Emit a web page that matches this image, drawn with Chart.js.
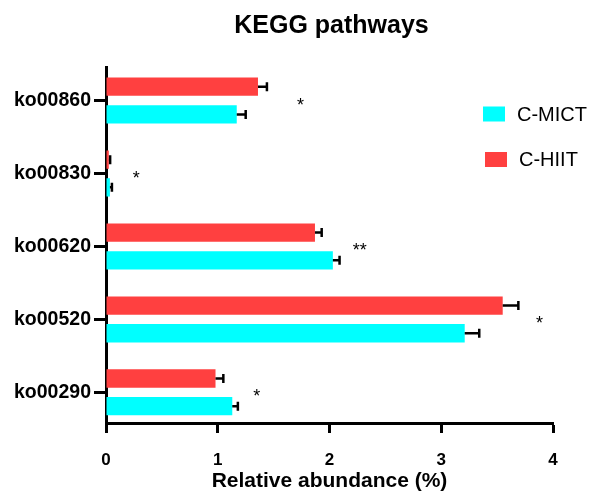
<!DOCTYPE html>
<html>
<head>
<meta charset="utf-8">
<script src="https://cdn.jsdelivr.net/npm/chart.js@4.4.1/dist/chart.umd.min.js"></script>
<style>
  body { margin: 0; background: #fff; }
  #wrap { width: 593px; height: 491px; }
</style>
</head>
<body>
<div id="wrap"><canvas id="myChart"></canvas></div>
<script>
// values
const categories = ['ko00860', 'ko00830', 'ko00620', 'ko00520', 'ko00290'];
const hiit = [1.36, 0.025, 1.87, 3.55, 0.98];
const hiitErr = [0.08, 0.012, 0.06, 0.14, 0.07];
const mict = [1.17, 0.035, 2.03, 3.21, 1.13];
const mictErr = [0.08, 0.018, 0.06, 0.13, 0.05];
const sigLabels = ['*', '*', '**', '*', '*'];
const sigAt = [1.74, 0.27, 2.27, 3.88, 1.35];
const xTicks = [0, 1, 2, 3, 4];

const FONT = "'Liberation Sans', Arial, sans-serif";
Chart.defaults.color = '#000';
Chart.defaults.font.family = FONT;

// error bars, drawn from the bar ends
const errorBars = {
  id: 'errorBars',
  afterDatasetsDraw(chart) {
    let ctx = chart.ctx;
    let xs = chart.scales.x;
    ctx.save();
    ctx.strokeStyle = '#000';
    ctx.lineWidth = 2.5;
    chart.data.datasets.forEach(function (ds, di) {
      let meta = chart.getDatasetMeta(di);
      meta.data.forEach(function (bar, i) {
        let xe = xs.getPixelForValue(ds.data[i] + ds.errors[i]);
        ctx.beginPath();
        ctx.moveTo(bar.x, bar.y);
        ctx.lineTo(xe, bar.y);
        ctx.moveTo(xe, bar.y - 4.5);
        ctx.lineTo(xe, bar.y + 4.5);
        ctx.stroke();
      });
    });
    ctx.restore();
  }
};

// title, significance marks and legend
const extras = {
  id: 'extras',
  afterDraw(chart) {
    let ctx = chart.ctx;
    let area = chart.chartArea;
    let xs = chart.scales.x, ys = chart.scales.y;
    ctx.save();
    ctx.fillStyle = '#000';
    ctx.textAlign = 'center';
    ctx.textBaseline = 'middle';
    ctx.font = 'bold 25px ' + FONT;
    ctx.fillText('KEGG pathways', (area.left + area.right) / 2 + 2, 26);

    ctx.font = '18px ' + FONT;
    ctx.textBaseline = 'alphabetic';
    sigLabels.forEach(function (s, i) {
      ctx.fillText(s, xs.getPixelForValue(sigAt[i]), ys.getPixelForValue(i) + 10);
    });

    // legend: C-MICT first, then C-HIIT
    let order = [1, 0];
    ctx.textAlign = 'left';
    ctx.textBaseline = 'middle';
    ctx.font = '20px ' + FONT;
    order.forEach(function (di, k) {
      let ds = chart.data.datasets[di];
      let y = 114 + k * 45.5;
      ctx.fillStyle = ds.backgroundColor;
      ctx.fillRect(483 + k * 2, y - 7.5, 22, 15);
      ctx.fillStyle = '#000';
      ctx.fillText(ds.label, 517 + k * 2, y + 1);
    });
    ctx.restore();
  }
};

let ctx = document.getElementById('myChart').getContext('2d');
let myChart = new Chart(ctx, {
  type: 'bar',
  data: {
    labels: categories,
    datasets: [{
      label: 'C-HIIT',
      data: hiit,
      errors: hiitErr,
      backgroundColor: '#ff4040',
      borderWidth: 0,
      categoryPercentage: 0.76,
      barPercentage: 0.66
    }, {
      label: 'C-MICT',
      data: mict,
      errors: mictErr,
      backgroundColor: '#00ffff',
      borderWidth: 0,
      categoryPercentage: 0.76,
      barPercentage: 0.66
    }]
  },
  options: {
    indexAxis: 'y',
    responsive: true,
    maintainAspectRatio: false,
    animation: false,
    layout: { padding: { top: 67, right: 40, left: 0, bottom: 0 } },
    plugins: {
      legend: { display: false },
      tooltip: { enabled: false }
    },
    scales: {
      x: {
        min: 0,
        max: 4,
        afterBuildTicks: function (scale) {
          scale.ticks = xTicks.map(v => ({ value: v }));
        },
        afterFit: function (scale) { scale.height = 68; },
        border: { color: '#000', width: 3 },
        grid: { drawOnChartArea: false, tickColor: '#000', tickWidth: 3, tickLength: 10 },
        ticks: { font: { size: 17, weight: 'bold' }, padding: 17, color: '#000' },
        title: {
          display: true,
          text: 'Relative abundance (%)',
          font: { size: 21, weight: 'bold' },
          color: '#000',
          padding: { top: 0, bottom: -3 }
        }
      },
      y: {
        offset: true,
        afterBuildTicks: function (scale) {
          // tighter end gaps than chart.js' half category
          scale._startValue = -0.46;
          scale._valueRange = categories.length - 1 + 0.88;
        },
        afterFit: function (scale) { scale.width = 106; },
        border: { color: '#000', width: 3 },
        grid: { offset: false, drawOnChartArea: false, tickColor: '#000', tickWidth: 3, tickLength: 12 },
        ticks: { font: { size: 19.5, weight: 'bold' }, padding: 3, color: '#000' }
      }
    }
  },
  plugins: [errorBars, extras]
});
</script>
</body>
</html>
